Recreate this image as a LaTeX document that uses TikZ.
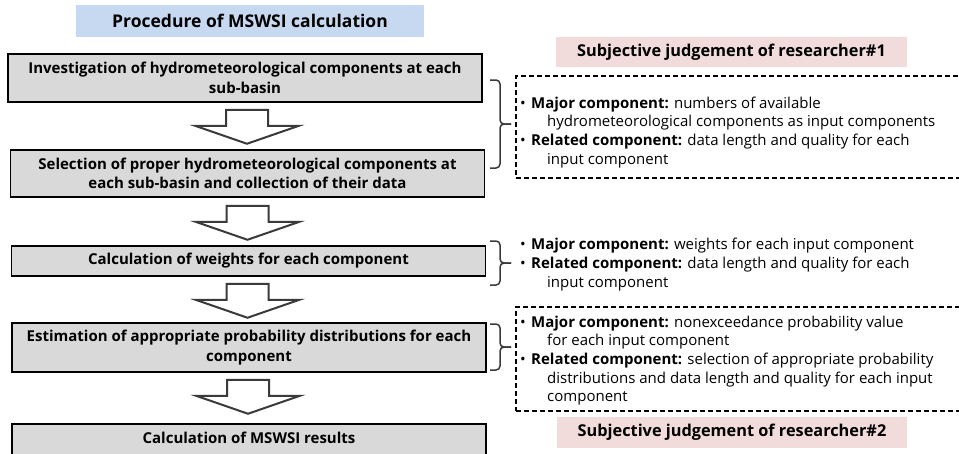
\documentclass[tikz,border=0pt]{standalone}
\usepackage{fontspec}
\setmainfont{Open Sans}
\usetikzlibrary{calc}
\definecolor{boxgray}{HTML}{D9D9D9}
\definecolor{titleblue}{HTML}{C6D9F1}
\definecolor{pinkish}{HTML}{F2DCDB}
\definecolor{darkline}{HTML}{3A3A3A}
\newcommand\mybox{\fontsize{15}{19.5}\selectfont\bfseries}
\newcommand\myhead{\fontsize{17.5}{20}\selectfont\bfseries}
\newcommand\mypink{\fontsize{16.3}{20}\selectfont\bfseries}
\newcommand\myside{\fontsize{15}{18.7}\selectfont}
\newcommand\bul{\makebox[11pt][l]{\textbullet}}
\newcommand\ind{\hspace*{27pt}}
\begin{document}
\begin{tikzpicture}[x=1pt,y=-1pt,
  stepbox/.style={draw=black, line width=1.5pt, fill=boxgray, minimum width=474pt, inner sep=0pt, align=center, font=\mybox},
  headbox/.style={fill=#1, inner sep=0pt},
  dashbox/.style={draw=black, line width=1.6pt, dash pattern=on 5pt off 3pt, inner sep=0pt, anchor=north west},
  sidetext/.style={inner sep=0pt, anchor=north west, align=left, font=\myside},
  bracket/.style={draw=darkline, line width=1.5pt, rounded corners=4pt},
  downarrow/.pic={\draw[line width=2pt, draw=darkline, fill=white, line join=miter] (-21,0) -- (21,0) -- (21,16) -- (52,16) -- (0,34) -- (-52,16) -- (-21,16) -- cycle;}
]
\useasboundingbox (0,0) rectangle (959,453);

% title
\node[headbox=titleblue, minimum width=348pt, minimum height=32pt, font=\myhead] (title) at (250,21) {Procedure of MSWSI calculation};

% steps
\node[stepbox, minimum height=48pt] (b1) at (245,78) {Investigation of hydrometeorological components at each\\sub-basin};
\node[stepbox, minimum height=47pt] (b2) at (247.5,173.5) {Selection of proper hydrometeorological components at\\each sub-basin and collection of their data};
\node[stepbox, minimum height=30pt] (b3) at (248.5,261) {Calculation of weights for each component};
\node[stepbox, minimum height=49pt] (b4) at (249,347.5) {Estimation of appropriate probability distributions for each\\component};
\node[stepbox, minimum height=40pt, anchor=north] (b5) at (249,423) {\raisebox{11pt}{Calculation of MSWSI results}};

% arrows
\pic at ($(b1.south)+(2,7)$) {downarrow};
\pic at ($(b2.south)+(0,8)$) {downarrow};
\pic at ($(b3.south)+(-1,7)$) {downarrow};
\pic at ($(b4.south)+(-1,7)$) {downarrow};

% subjective judgement labels
\node[headbox=pinkish, minimum width=351pt, minimum height=30pt, font=\mypink] (p1) at (731.5,52) {Subjective judgement of researcher\#1};
\node[headbox=pinkish, minimum width=350pt, minimum height=31pt, font=\mypink] (p2) at (732,432.5) {Subjective judgement of researcher\#2};

% dashed boxes
\node[dashbox, minimum width=450pt, minimum height=102pt] (d1) at (515,75) {};
\node[dashbox, minimum width=450pt, minimum height=104pt] (d2) at (515,306) {};

% brackets
\draw[bracket] (490,80) -- (500,80) -- (500,124) -- (511,124);
\draw[bracket] (490,168) -- (500,168) -- (500,124) -- (511,124);
\draw[bracket] (490,241) -- (500,241) -- (500,263) -- (511,263);
\draw[bracket] (490,285) -- (500,285) -- (500,263) -- (511,263);
\draw[bracket] (490,324) -- (500,324) -- (500,347) -- (511,347);
\draw[bracket] (490,370) -- (500,370) -- (500,347) -- (511,347);

% side texts
\node[sidetext] (t1) at (520,96.5) {\bul\textbf{Major component:} numbers of available\\
\ind hydrometeorological components as input components\\
\bul\textbf{Related component:} data length and quality for each\\
\ind input component};
\node[sidetext] (t2) at (520,238) {\bul\textbf{Major component:} weights for each input component\\
\bul\textbf{Related component:} data length and quality for each\\
\ind input component};
\node[sidetext] (t3) at (520,315.5) {\bul\textbf{Major component:} nonexceedance probability value\\
\ind for each input component\\
\bul\textbf{Related component:} selection of appropriate probability\\
\ind distributions and data length and quality for each input\\
\ind component};
\end{tikzpicture}
\end{document}
